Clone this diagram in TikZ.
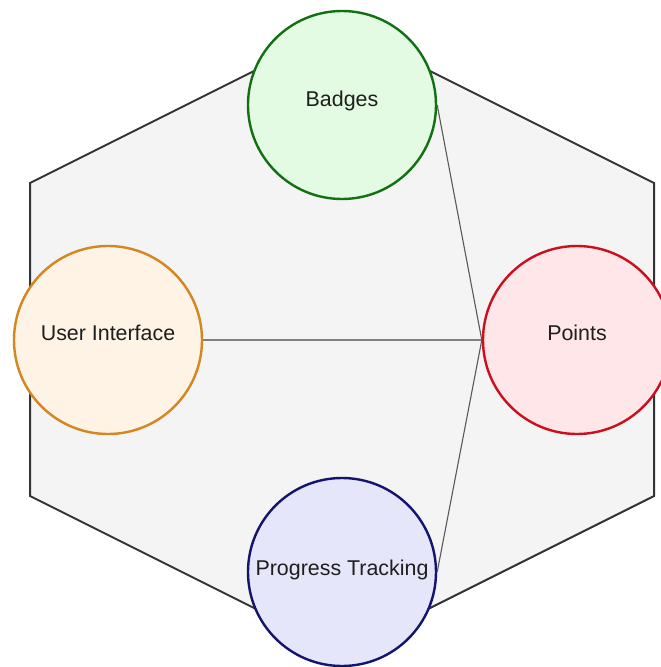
\documentclass[tikz,border=0pt]{standalone}
\usepackage{fontspec}
\setmainfont{Liberation Sans}
\definecolor{hexfill}{HTML}{F4F4F4}
\definecolor{hexline}{HTML}{333333}
\definecolor{gfill}{HTML}{E3FBE3}
\definecolor{gline}{HTML}{127012}
\definecolor{ofill}{HTML}{FFF3E6}
\definecolor{oline}{HTML}{D4861F}
\definecolor{rfill}{HTML}{FFE6E8}
\definecolor{rline}{HTML}{CC0F1E}
\definecolor{bfill}{HTML}{E6E6FB}
\definecolor{bline}{HTML}{14146E}
\definecolor{txtc}{HTML}{1E1E1E}
\tikzset{
  circ/.style={circle, draw, line width=2.4pt, minimum size=188pt, inner sep=0pt},
  lbl/.style={anchor=base, text=txtc, font=\fontsize{21.4}{25}\selectfont, inner sep=0pt},
  conn/.style={draw=black!65, line width=1.1pt},
  connthick/.style={draw=black!50, line width=2pt}
}
\begin{document}
\begin{tikzpicture}[x=1pt, y=-1pt]
\useasboundingbox (0,0) rectangle (661,667);
\fill[white] (0,0) rectangle (661,667);
\draw[fill=hexfill, draw=hexline, line width=2pt, line join=miter]
  (342,27) -- (654,183) -- (654,496) -- (342,652) -- (30,496) -- (30,183) -- cycle;
\node[circ, draw=gline, fill=gfill] (b) at (342,105) {};
\node[circ, draw=oline, fill=ofill] (u) at (108,340) {};
\node[circ, draw=rline, fill=rfill] (p) at (577,340) {};
\node[circ, draw=bline, fill=bfill] (t) at (342,572) {};
\draw[connthick] (u.east) -- (p.west);
\draw[conn] (b.east) -- (p.west);
\draw[conn] (t.east) -- (p.west);
\node[lbl] (bl) at ([yshift=-1pt]b.center) {Badges};
\node[lbl] (ul) at ([yshift=0pt]u.center) {User Interface};
\node[lbl] (pl) at ([yshift=0pt]p.center) {Points};
\node[lbl] (tl) at ([yshift=-3pt]t.center) {Progress Tracking};
\end{tikzpicture}
\end{document}
